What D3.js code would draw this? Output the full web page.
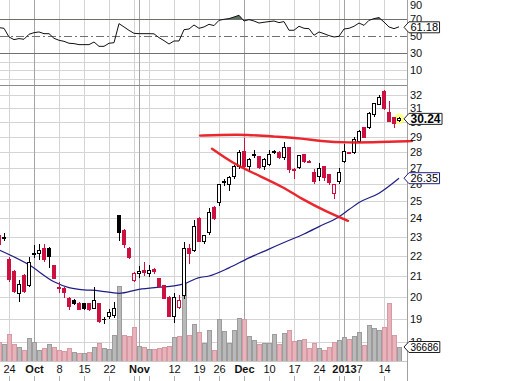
<!DOCTYPE html>
<html><head><meta charset="utf-8">
<script src="https://cdn.jsdelivr.net/npm/d3@7"></script>
<style>
html,body{margin:0;padding:0;background:#fff;}
svg{display:block;font-family:"Liberation Sans",Arial,sans-serif;}
</style></head><body>
<svg id="chart" width="512" height="381"></svg>
<script>
// ---------- DATA ----------
const dates = ["2012-09-20","2012-09-21","2012-09-24","2012-09-25","2012-09-26","2012-09-27","2012-09-28",
"2012-10-01","2012-10-02","2012-10-03","2012-10-04","2012-10-05","2012-10-08","2012-10-09","2012-10-10","2012-10-11","2012-10-12",
"2012-10-15","2012-10-16","2012-10-17","2012-10-18","2012-10-19","2012-10-22","2012-10-23","2012-10-24","2012-10-25","2012-10-26","2012-10-31",
"2012-11-01","2012-11-02","2012-11-05","2012-11-06","2012-11-07","2012-11-08","2012-11-09","2012-11-12","2012-11-13","2012-11-14","2012-11-15","2012-11-16",
"2012-11-19","2012-11-20","2012-11-21","2012-11-23","2012-11-26","2012-11-27","2012-11-28","2012-11-29","2012-11-30",
"2012-12-03","2012-12-04","2012-12-05","2012-12-06","2012-12-07","2012-12-10","2012-12-11","2012-12-12","2012-12-13","2012-12-14",
"2012-12-17","2012-12-18","2012-12-19","2012-12-20","2012-12-21","2012-12-24","2012-12-26","2012-12-27","2012-12-28","2012-12-31",
"2013-01-02","2013-01-03","2013-01-04","2013-01-07","2013-01-08","2013-01-09","2013-01-10","2013-01-11","2013-01-14","2013-01-15","2013-01-16","2013-01-17"];

const open  = [23.05,22.90,21.80,21.20,20.14,21.00,20.52,22.05,22.10,22.36,22.36,21.50,20.45,20.42,19.91,19.86,19.72,19.68,19.68,19.49,19.68,18.98,19.13,19.18,24.14,23.32,22.40,20.76,
21.10,21.25,21.10,21.30,20.86,20.52,20.00,19.13,19.54,20.09,22.36,22.30,23.98,22.73,23.21,24.60,24.89,26.07,25.95,26.44,27.06,
28.02,27.06,27.80,27.70,27.06,27.19,28.00,28.00,27.63,28.28,26.90,27.00,27.82,27.42,26.69,26.44,27.06,26.56,25.41,26.14,
27.38,27.95,27.95,28.68,29.62,29.62,30.53,31.25,32.22,30.67,30.32,30.15];
const high  = [23.15,23.20,21.95,21.30,20.81,21.10,21.95,22.57,22.60,22.60,22.45,21.55,20.70,20.45,19.98,19.90,19.75,19.70,19.72,20.47,19.72,19.09,19.45,19.77,24.20,23.40,22.45,21.20,
21.50,21.70,21.55,21.40,20.90,20.55,20.05,20.19,20.09,22.70,22.60,23.93,24.10,23.10,24.60,24.70,26.00,26.30,26.50,27.20,28.10,
28.94,27.60,28.10,27.75,27.60,28.15,28.15,28.05,28.68,28.30,27.00,27.80,27.90,27.50,26.90,27.30,27.10,26.60,26.00,27.00,
28.50,28.00,29.00,29.50,29.65,30.70,31.40,31.95,32.30,31.55,30.35,30.40];
const low   = [22.50,22.78,20.70,20.20,19.77,20.20,20.45,21.90,21.80,21.70,21.40,20.85,20.19,19.95,19.40,19.63,19.40,19.40,19.38,19.45,18.85,18.78,19.00,19.05,22.78,22.40,21.85,20.70,
20.90,21.00,20.95,21.10,20.40,19.90,19.09,18.83,19.45,19.91,21.60,22.20,22.70,22.60,23.10,23.90,24.70,25.90,25.60,26.30,26.90,
26.90,26.75,27.60,26.90,26.87,27.10,27.90,27.55,27.50,26.70,26.30,26.90,27.30,27.30,26.00,26.20,26.20,25.95,25.13,26.00,
27.30,27.85,27.85,28.60,28.90,29.55,30.40,31.20,30.90,30.00,29.62,30.05];
const close = [22.57,22.94,20.81,20.28,20.61,20.28,21.65,22.10,22.26,21.80,21.95,20.90,20.42,20.19,19.58,19.68,19.45,19.47,19.42,19.86,18.91,19.00,19.31,19.49,23.21,22.57,21.90,21.10,
21.20,21.15,21.25,21.20,20.47,19.95,19.13,20.00,19.86,22.36,22.15,23.58,22.73,23.05,24.32,23.98,25.95,26.14,26.38,27.06,27.95,
27.06,27.50,27.82,27.00,27.50,27.82,28.02,27.63,28.28,26.90,26.85,27.76,27.38,27.35,26.14,26.93,26.38,26.07,25.95,26.69,
28.02,27.90,28.81,29.35,28.94,30.60,31.33,31.77,31.00,30.04,29.90,30.24];
const volume = [49800,44500,70700,44500,36700,28800,60300,49800,28800,34100,44500,36700,28800,26200,34100,23600,21000,21000,23600,36700,47200,34100,31400,68100,196500,68100,65500,89100,
39300,36700,31400,31400,34100,36700,39300,62900,65500,204400,68100,96900,76000,47200,81200,28800,110000,78600,47200,81200,112700,
110000,65500,55000,44500,47200,47200,70700,44500,73400,81200,52400,55000,57600,34100,47200,34100,28800,36700,49800,55000,
62900,57600,65500,76000,41900,94300,86500,81200,89100,152000,68100,36686];
const rsi = [60.2,59.4,49.2,46.1,47.3,46.5,52.4,54.3,55.1,53.1,53.1,47.6,45.3,44.1,41.8,41.4,40.2,40.2,40.2,43.3,38.2,38.2,41.8,42.5,64.9,61.0,57.0,53.5,
53.1,53.1,53.1,52.9,48.4,44.9,40.9,44.5,44.5,57.8,58.6,63.3,59.4,61.0,64.1,62.6,68.8,70.0,70.8,72.7,74.7,
68.0,69.6,68.0,65.6,66.5,67.3,68.0,66.1,67.3,57.1,57.1,61.8,59.4,59.0,51.2,55.1,53.1,50.8,49.2,50.0,
58.6,59.4,61.8,65.6,62.9,68.8,70.8,72.0,66.8,61.0,59.0,61.18];

const maDates = ["2012-09-20","2012-09-28","2012-10-05","2012-10-10","2012-10-12","2012-10-18","2012-10-24","2012-11-01","2012-11-07","2012-11-12","2012-11-14","2012-11-19","2012-11-21","2012-11-28","2012-12-04","2012-12-10","2012-12-13","2012-12-19","2012-12-24","2012-12-31","2013-01-03","2013-01-07","2013-01-11","2013-01-17"];
const maValues = [22.31,21.55,20.72,20.44,20.36,20.29,20.17,20.36,20.46,20.52,20.62,20.92,21.00,21.40,21.90,22.35,22.70,23.15,23.55,24.10,24.50,24.90,25.45,26.35];

// hand-drawn annotation lines: positions in trading-day units, prices
const upperLineT = [40.2,44.2,49.6,55.2,60.8,64.2,69.6,76.2,82.6];
const upperLineP = [29.09,29.13,29.16,29.02,28.89,28.72,28.61,28.65,28.72];
const lowerLineT = [42.6,46.6,51.6,56.8,60.8,65.6,69.8];
const lowerLineP = [28.22,27.31,26.56,25.83,25.06,24.37,23.87];

const gridDates = ["2012-09-24","2012-10-01","2012-10-08","2012-10-15","2012-10-22","2012-10-31","2012-11-01","2012-11-05","2012-11-12","2012-11-19","2012-11-26","2012-12-03","2012-12-10","2012-12-17","2012-12-24","2012-12-31","2013-01-02","2013-01-07","2013-01-14"];
const monthDates = ["2012-10-01","2012-11-01","2012-12-03","2013-01-02"];
const tickDates = ["2012-09-24","2012-10-01","2012-10-08","2012-10-15","2012-10-22","2012-11-01","2012-11-12","2012-11-19","2012-11-26","2012-12-03","2012-12-10","2012-12-17","2012-12-24","2013-01-02","2013-01-07","2013-01-14"];
const tickLabels = ["24","Oct","8","15","22","Nov","12","19","26","Dec","10","17","24","2013","7","14"];
const priceTicks = [18,19,20,21,22,23,24,25,26,27,28,29,30,31,32];
const rsiTicks = [90,70,50,30,10];
const rsiGrid = [20,10,0];

// ---------- CHART ----------
const svg = d3.select("#chart");
const plotR = 407, plotB = 361, priceTop = 85;
const n = dates.length;
const idx = new Map(dates.map((d,i)=>[d,i]));
const x = d3.scaleLinear().domain([0,n-1]).range([-1,-1+5*(n-1)]);
const yP = d3.scaleLog().domain([20,32]).range([297,94.5]);
const yR = d3.scaleLinear().domain([30,70]).range([53.3,19.3]);
const yV = d3.scaleLinear().domain([0,36686]).range([plotB,347]);
const FONT = '"Liberation Sans",Arial,sans-serif';

svg.append("defs").call(d=>{
  d.append("clipPath").attr("id","plot").append("rect").attr("x",0).attr("y",0).attr("width",plotR).attr("height",plotB);
  d.append("clipPath").attr("id","ob").append("rect").attr("x",0).attr("y",0).attr("width",plotR).attr("height",yR(70));
});

const grid = svg.append("g").attr("shape-rendering","crispEdges");
grid.selectAll(".hp").data(priceTicks).join("line")
  .attr("x1",0).attr("x2",plotR).attr("y1",d=>Math.round(yP(d))+0.5).attr("y2",d=>Math.round(yP(d))+0.5)
  .attr("stroke","#d4d4d4");
grid.selectAll(".hr").data(rsiGrid).join("line")
  .attr("x1",0).attr("x2",plotR).attr("y1",d=>Math.round(yR(d))+0.5).attr("y2",d=>Math.round(yR(d))+0.5)
  .attr("stroke","#d4d4d4");
grid.selectAll(".v").data(gridDates).join("line")
  .attr("x1",d=>Math.round(x(idx.get(d)))+0.5).attr("x2",d=>Math.round(x(idx.get(d)))+0.5)
  .attr("y1",0).attr("y2",plotB)
  .attr("stroke",d=>monthDates.includes(d)?"#a4a4a4":"#d4d4d4");
grid.selectAll(".bt").data(gridDates).join("line")
  .attr("x1",d=>Math.round(x(idx.get(d)))+0.5).attr("x2",d=>Math.round(x(idx.get(d)))+0.5)
  .attr("y1",376).attr("y2",381).attr("stroke","#b0b0b0");
grid.append("line").attr("x1",0).attr("x2",plotR).attr("y1",Math.round(yR(70))+0.5).attr("y2",Math.round(yR(70))+0.5).attr("stroke","#707070");
grid.append("line").attr("x1",0).attr("x2",plotR).attr("y1",Math.round(yR(30))+0.5).attr("y2",Math.round(yR(30))+0.5).attr("stroke","#707070");
grid.append("line").attr("x1",0).attr("x2",plotR).attr("y1",Math.round(yR(50))+0.5).attr("y2",Math.round(yR(50))+0.5).attr("stroke","#707070").attr("stroke-dasharray","8,3,2,3");
grid.append("line").attr("x1",0).attr("x2",plotR).attr("y1",priceTop+0.5).attr("y2",priceTop+0.5).attr("stroke","#8c8c8c");
grid.append("line").attr("x1",0).attr("x2",plotR).attr("y1",plotB+0.5).attr("y2",plotB+0.5).attr("stroke","#c8c8c8");
grid.append("line").attr("x1",plotR+0.5).attr("x2",plotR+0.5).attr("y1",0).attr("y2",381).attr("stroke","#a0a0a0");

// RSI
const rsiG = svg.append("g").attr("clip-path","url(#plot)");
rsiG.append("path").datum(rsi).attr("clip-path","url(#ob)")
  .attr("d",d3.area().x((d,i)=>x(i)).y0(yR(70)).y1(d=>yR(d)))
  .attr("fill","#5d735d");
rsiG.append("path").datum(rsi)
  .attr("d",d3.line().x((d,i)=>x(i)).y(d=>yR(d)))
  .attr("fill","none").attr("stroke","#111").attr("stroke-width",1);

const main = svg.append("g").attr("clip-path","url(#plot)");
const down = close.map((c,i)=> i>0 ? c < close[i-1] : c < open[i]);
main.append("g").attr("shape-rendering","crispEdges").selectAll("rect").data(volume).join("rect")
  .attr("x",(d,i)=>Math.round(x(i))-2).attr("width",4)
  .attr("y",d=>Math.round(yV(d))).attr("height",d=>plotB-Math.round(yV(d)))
  .attr("fill",(d,i)=>down[i]?"#e8b3bb":"#b9b9b9")
  .attr("stroke",(d,i)=>down[i]?"#d79aa4":"#9c9c9c").attr("stroke-width",1);

main.append("path").datum(maDates.map((d,i)=>[idx.get(d),maValues[i]]))
  .attr("d",d3.line().x(d=>x(d[0])).y(d=>yP(d[1])).curve(d3.curveMonotoneX))
  .attr("fill","none").attr("stroke","#1e1e86").attr("stroke-width",1.2);

main.append("circle").attr("cx",x(n-1)).attr("cy",yP(close[n-1])).attr("r",5.5)
  .attr("fill","#ffff70").attr("opacity",0.75);

const RED="#cc1141";
const cg = main.append("g").attr("shape-rendering","crispEdges");
const cand = cg.selectAll("g").data(dates).join("g");
cand.append("line")
  .attr("x1",(d,i)=>Math.round(x(i))+0.5).attr("x2",(d,i)=>Math.round(x(i))+0.5)
  .attr("y1",(d,i)=>yP(high[i])).attr("y2",(d,i)=>yP(low[i]))
  .attr("stroke",(d,i)=>down[i]?RED:"#000");
cand.append("rect")
  .attr("x",(d,i)=>Math.round(x(i))-1.5).attr("width",3)
  .attr("y",(d,i)=>yP(Math.max(open[i],close[i])))
  .attr("height",(d,i)=>Math.max(0.5,yP(Math.min(open[i],close[i]))-yP(Math.max(open[i],close[i]))))
  .attr("fill",(d,i)=> close[i] >= open[i] ? "#fff" : (down[i]?RED:"#000"))
  .attr("stroke",(d,i)=>down[i]?RED:"#000").attr("stroke-width",1);

const annLine = d3.line().x(d=>x(d[0])).y(d=>yP(d[1])).curve(d3.curveBasis);
svg.append("path").datum(upperLineT.map((t,i)=>[t,upperLineP[i]])).attr("d",annLine)
  .attr("fill","none").attr("stroke","#e8141c").attr("stroke-width",2.4).attr("stroke-linecap","round").attr("opacity",0.92);
svg.append("path").datum(lowerLineT.map((t,i)=>[t,lowerLineP[i]])).attr("d",annLine)
  .attr("fill","none").attr("stroke","#e8141c").attr("stroke-width",2.4).attr("stroke-linecap","round").attr("opacity",0.92);

function styleAxis(g){
  g.select(".domain").remove();
  g.attr("font-family",FONT).attr("font-size",11);
  g.selectAll("text").attr("fill","#111");
}
svg.append("g").attr("transform",`translate(${plotR},0)`)
  .call(d3.axisRight(yP).tickValues(priceTicks).tickFormat(d3.format("d")).tickSize(0).tickPadding(3))
  .call(styleAxis);
svg.append("g").attr("transform",`translate(${plotR},0)`)
  .call(d3.axisRight(yR).tickValues(rsiTicks).tickFormat(d3.format("d")).tickSize(0).tickPadding(3))
  .call(styleAxis)
  .call(g=>g.selectAll(".tick text").attr("dy",(d)=>d===90?"0.55em":"0.32em"));

svg.append("g").attr("transform",`translate(0,${plotB})`)
  .call(d3.axisBottom(x).tickValues(tickDates.map(d=>idx.get(d))).tickFormat((d,i)=>tickLabels[i]).tickSize(0).tickPadding(4))
  .call(g=>{
    g.select(".domain").remove();
    g.attr("font-family",FONT).attr("font-size",11);
    g.selectAll("text").attr("fill","#111")
      .attr("font-weight",(d,i)=>monthDates.includes(tickDates[i])?"bold":"normal");
  });

function valueBox(yc, label, bold, stroke, size){
  const g = svg.append("g");
  const x0 = plotR - 3, xb = plotR + 2, h = 5.5;
  const path = g.append("path");
  const t = g.append("text").attr("x",xb+1.5).attr("y",yc).attr("dy","0.35em")
    .attr("font-family",FONT).attr("font-size",size).attr("font-weight",bold?"bold":"normal")
    .attr("fill","#000").text(label);
  const w = t.node().getComputedTextLength();
  const xr = Math.max(plotR + 31, xb + 1.5 + w + 1.5);
  path.attr("d",`M${x0},${yc} L${xb},${yc-h} L${xr},${yc-h} L${xr},${yc+h} L${xb},${yc+h} Z`)
    .attr("fill","#fff").attr("stroke",stroke).attr("stroke-width",1);
}
valueBox(yR(rsi[n-1])+0.5, d3.format(".2f")(rsi[n-1]), false, "#222", 11);
valueBox(yP(close[n-1]), d3.format(".2f")(close[n-1]), true, "#222", 12);
valueBox(yP(maValues[maValues.length-1]), d3.format(".2f")(maValues[maValues.length-1]), false, "#1e1e86", 11);
valueBox(yV(volume[n-1]), String(volume[n-1]), false, "#222", 10);
</script>
</body></html>
